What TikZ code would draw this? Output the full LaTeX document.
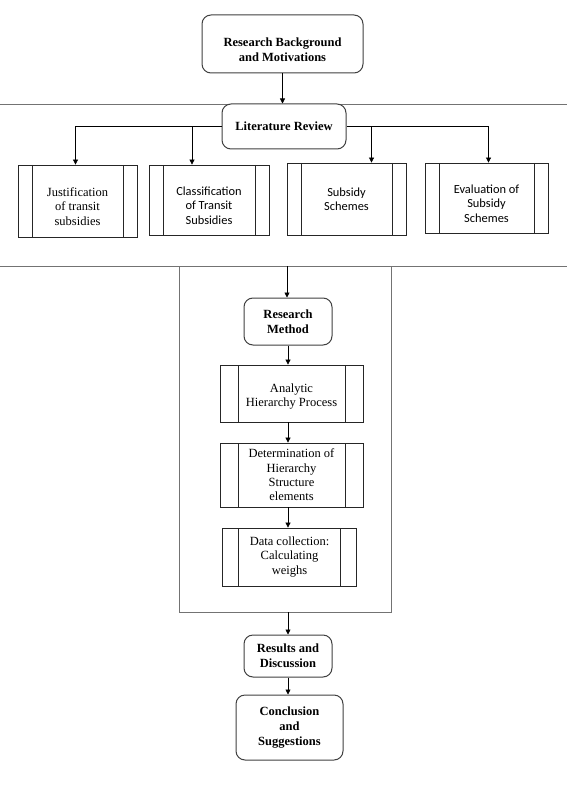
\documentclass[tikz,border=0pt]{standalone}
\usepackage{fontspec}
\setmainfont{Liberation Serif}
\newfontfamily\calfont{Carlito}
\usetikzlibrary{arrows.meta}

% invisible strut to push the text lines down inside a box
\newcommand\dropstrut[1][20pt]{\rule{0pt}{#1}}

\tikzset{
  stagebox/.style={draw=black!75, fill=white, line width=1pt, rounded corners=9pt,
    align=center, inner sep=2pt, font=\fontsize{12.5}{14.8}\selectfont\bfseries},
  procbox/.style={draw=black!85, fill=white, line width=0.8pt, align=center, inner sep=2pt,
    font=\fontsize{12.5}{14.3}\selectfont,
    path picture={\draw[black!85, line width=0.8pt]
      ([xshift=#1]path picture bounding box.north west) -- ([xshift=#1]path picture bounding box.south west)
      ([xshift=-#1]path picture bounding box.north east) -- ([xshift=-#1]path picture bounding box.south east);}},
  procbox/.default=14pt,
  calbox/.style={procbox, font=\fontsize{12.4}{14.5}\selectfont\calfont},
  flow/.style={-{Triangle[length=5pt,width=5pt]}, line width=0.7pt},
  lane/.style={draw=black!55, line width=0.8pt}
}

\begin{document}
\begin{tikzpicture}[x=1pt, y=-1pt]
  \useasboundingbox (0,0) rectangle (567,799);

  % lanes
  \draw[lane] (0,104) -- (567,104);
  \draw[lane] (0,266) -- (567,266);
  \draw[lane] (179,266) |- (391,612) -- (391,266);
  \coordinate (methin) at (287,266);
  \coordinate (methout) at (288,612);

  % top
  \node[stagebox, minimum width=161pt, minimum height=58pt] (bg) at (282.5,44) {\dropstrut Research Background\\and Motivations};
  \node[stagebox, minimum width=124pt, minimum height=45pt] (lit) at (284,126.5) {Literature Review};

  % review topics
  \node[procbox, minimum width=119pt, minimum height=72pt] (just) at (77.5,201) {\dropstrut Justification\\of transit\\subsidies};
  \node[calbox, minimum width=120pt, minimum height=70pt] (clas) at (209,200) {\dropstrut Classification\\of Transit\\Subsidies};
  \node[calbox, minimum width=119pt, minimum height=72pt] (sch) at (346.5,199) {Subsidy\\Schemes};
  \node[calbox, minimum width=123pt, minimum height=70pt] (eval) at (486.5,198) {\dropstrut Evaluation of\\Subsidy\\Schemes};

  % method
  \node[stagebox, minimum width=88pt, minimum height=47pt] (meth) at (288,321.5) {Research\\Method};
  \node[procbox=18pt, minimum width=143pt, minimum height=57pt] (ahp) at (291.5,393.5) {\dropstrut[14pt]Analytic\\Hierarchy Process};
  \node[procbox=18pt, minimum width=143pt, minimum height=64pt] (det) at (291.5,475) {Determination of\\Hierarchy\\Structure\\elements};
  \node[procbox=16pt, minimum width=134pt, minimum height=58pt] (data) at (289.5,557) {Data collection:\\Calculating\\weighs};

  % end
  \node[stagebox, minimum width=88pt, minimum height=42pt] (res) at (288,656) {Results and\\Discussion};
  \node[stagebox, minimum width=107pt, minimum height=65pt] (concl) at (289.5,727.5) {Conclusion\\and\\Suggestions};

  % arrows
  \draw[flow] (bg.south) -- (bg.south |- lit.north);
  \draw[flow] (lit.west) -| ([xshift=-2pt]just.north);
  \draw[flow] ([xshift=-17pt]clas.north |- lit.west) -- ([xshift=-17pt]clas.north);
  \draw[flow] ([xshift=25pt]sch.north |- lit.east) -- ([xshift=25pt]sch.north);
  \draw[flow] (lit.east) -| ([xshift=2pt]eval.north);

  \draw[flow] (methin) -- (methin |- meth.north);
  \draw[flow] (meth.south) -- (meth.south |- ahp.north);
  \draw[flow] (ahp.south -| meth.south) -- (det.north -| meth.south);
  \draw[flow] (det.south -| meth.south) -- (data.north -| meth.south);
  \draw[flow] (methout) -- (methout |- res.north);
  \draw[flow] (res.south) -- (res.south |- concl.north);
\end{tikzpicture}
\end{document}
